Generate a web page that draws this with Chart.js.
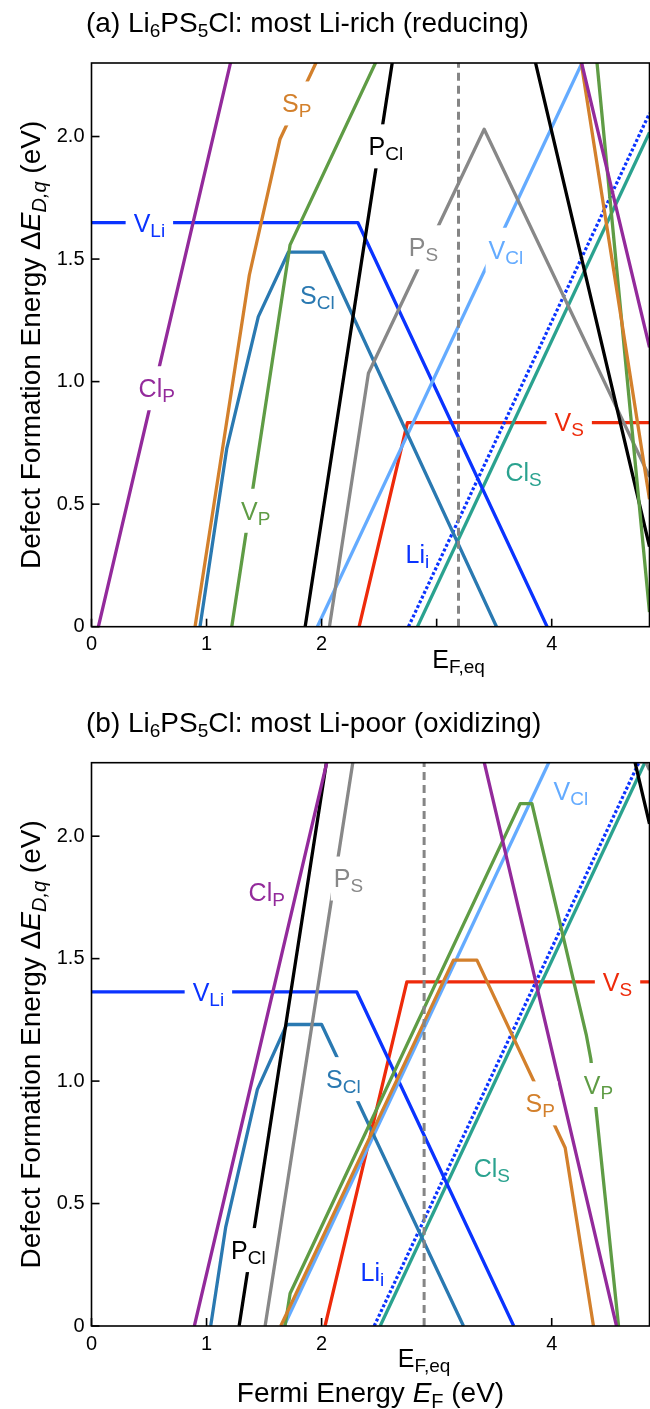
<!DOCTYPE html>
<html><head><meta charset="utf-8">
<script src="https://cdn.jsdelivr.net/npm/chart.js@4.4.1/dist/chart.umd.min.js"></script>
<style>
html,body{margin:0;padding:0;background:#fff;}
#wrap{position:relative;width:650px;height:1409px;overflow:hidden;}
#ca{position:absolute;left:0;top:0;}
#cb{position:absolute;left:0;top:700px;}
</style></head><body>
<div id="wrap"><canvas id="ca" width="650" height="700"></canvas><canvas id="cb" width="650" height="709"></canvas></div>
<script>
// ---------- axes ----------
const xRange = [0, 4.85];
const yRange = [0, 2.3];
const xTicksA = [0, 1, 2, 3, 4];
const xTickLabelsA = ['0', '1', '2', '', '4'];
const xTicksB = [0, 1, 2, 4];
const xTickLabelsB = ['0', '1', '2', '4'];
const yTicks = [0, 0.5, 1, 1.5, 2];
const yTickLabels = ['0', '0.5', '1.0', '1.5', '2.0'];
const efEqA = 3.19;
const efEqB = 2.891;

// ---------- panel (a): most Li-rich ----------
const a_ClP_x = [0.06, 2.72, 4.85];                 const a_ClP_y = [0, 5.33, 1.14];
const a_SP_x  = [0.90, 1.372, 1.639, 3.146, 3.35, 4.117, 4.85]; const a_SP_y = [0, 1.435, 1.99, 3.49, 3.49, 2.72, 0.52];
const a_SCl_x = [0.943, 1.176, 1.45, 1.711, 2.016, 3.52];   const a_SCl_y = [0, 0.728, 1.265, 1.528, 1.528, 0];
const a_VLi_x = [0, 2.315, 3.96];                   const a_VLi_y = [1.649, 1.649, 0];
const a_VP_x  = [1.219, 1.726, 3.726, 3.828, 4.30, 4.394, 4.85]; const a_VP_y = [0, 1.558, 3.558, 3.558, 2.614, 2.30, 0.06];
const a_PCl_x = [1.857, 3.107, 4.85];               const a_PCl_y = [0, 3.80, 0.327];
const a_PS_x  = [2.068, 2.407, 3.413, 4.85];        const a_PS_y  = [0, 1.034, 2.03, 0.612];
const a_VCl_x = [1.963, 4.40];                      const a_VCl_y = [0, 2.437];
const a_VS_x  = [2.326, 2.746, 4.85];               const a_VS_y  = [0, 0.833, 0.833];
const a_Lii_x = [2.755, 4.85];                      const a_Lii_y = [0, 2.095];
const a_ClS_x = [2.833, 4.85];                      const a_ClS_y = [0, 2.017];

// ---------- panel (b): most Li-poor ----------
const b_ClP_x = [0.894, 2.73, 4.563];               const b_ClP_y = [0, 3.67, 0];
const b_SP_x  = [1.645, 3.146, 3.35, 4.117, 4.363]; const b_SP_y  = [0, 1.494, 1.494, 0.728, 0];
const b_SCl_x = [1.036, 1.167, 1.442, 1.697, 2.0, 3.233]; const b_SCl_y = [0, 0.405, 0.966, 1.231, 1.231, 0];
const b_VLi_x = [0, 2.306, 3.67];                   const b_VLi_y = [1.364, 1.364, 0];
const b_VP_x  = [1.682, 1.726, 3.726, 3.828, 4.30, 4.34, 4.581]; const b_VP_y = [0, 0.133, 2.133, 2.133, 1.19, 1.09, 0];
const b_PCl_x = [1.283, 3.107, 4.85];               const b_PCl_y = [0, 5.53, 2.05];
const b_PS_x  = [1.509, 2.407, 3.413, 4.85];        const b_PS_y  = [0, 2.71, 3.70, 2.27];
const b_VCl_x = [1.674, 4.20];                      const b_VCl_y = [0, 2.526];
const b_VS_x  = [2.03, 2.741, 4.85];                const b_VS_y  = [0, 1.405, 1.405];
const b_Lii_x = [2.457, 4.85];                      const b_Lii_y = [0, 2.393];
const b_ClS_x = [2.509, 4.85];                      const b_ClS_y = [0, 2.341];

// ---------- colours ----------
const C = {
  ClP: '#932a9b', SP: '#d3802c', SCl: '#2a79b1', VLi: '#0a33ff', VP: '#5f9c45',
  PCl: '#000000', PS: '#888888', VCl: '#64abff', VS: '#ee2a0a', Lii: '#0a33ff', ClS: '#2aa28f', EF: '#858585'
};

// ---------- in-plot labels (data coordinates) ----------
const labelsA = [
  {main:'V',  sub:'Li', x:0.503, y:1.649, c:C.VLi, gap:[8,22]},
  {main:'S',  sub:'P',  x:1.784, y:2.135, c:C.SP,  gap:[3,22]},
  {main:'P',  sub:'Cl', x:2.558, y:1.96,  c:C.PCl, gap:[3,22]},
  {main:'S',  sub:'Cl', x:1.963, y:1.354, c:C.SCl, gap:null},
  {main:'P',  sub:'S',  x:2.885, y:1.548, c:C.PS,  gap:[3,22]},
  {main:'V',  sub:'Cl', x:3.602, y:1.538, c:C.VCl, gap:[3,22]},
  {main:'Cl', sub:'P',  x:0.567, y:0.973, c:C.ClP, gap:[3,22]},
  {main:'V',  sub:'P',  x:1.428, y:0.473, c:C.VP,  gap:[3,22]},
  {main:'V',  sub:'S',  x:4.152, y:0.833, c:C.VS,  gap:[8,22]},
  {main:'Cl', sub:'S',  x:3.755, y:0.630, c:C.ClS, gap:null},
  {main:'Li', sub:'i',  x:2.833, y:0.297, c:C.Lii, gap:null}
];
const labelsB = [
  {main:'Cl', sub:'P',  x:1.523, y:1.770, c:C.ClP, gap:null},
  {main:'P',  sub:'S',  x:2.233, y:1.827, c:C.PS,  gap:[3,22]},
  {main:'V',  sub:'Li', x:1.016, y:1.364, c:C.VLi, gap:[8,22]},
  {main:'S',  sub:'Cl', x:2.189, y:1.008, c:C.SCl, gap:[3,22]},
  {main:'P',  sub:'Cl', x:1.364, y:0.310, c:C.PCl, gap:[3,22]},
  {main:'Li', sub:'i',  x:2.442, y:0.222, c:C.Lii, gap:null},
  {main:'V',  sub:'S',  x:4.572, y:1.405, c:C.VS,  gap:[8,22]},
  {main:'V',  sub:'Cl', x:4.167, y:2.185, c:C.VCl, gap:null},
  {main:'S',  sub:'P',  x:3.90,  y:0.909, c:C.SP,  gap:[3,22]},
  {main:'V',  sub:'P',  x:4.407, y:0.984, c:C.VP,  gap:[3,22]},
  {main:'Cl', sub:'S',  x:3.480, y:0.644, c:C.ClS, gap:null}
];

// ---------- text helpers ----------
const FAM = '"Liberation Sans", Arial, Helvetica, sans-serif';
const LBL_MAIN = 25, LBL_SUB = 19, TICK = 20, TITLE = 28, AXT = 28, AXSUB = 20;
function fontStr(s){ return (s.i ? 'italic ' : '') + s.s + 'px ' + FAM; }
function richWidth(ctx, segs){ let w = 0; for (const s of segs){ ctx.font = fontStr(s); w += ctx.measureText(s.t).width; } return w; }
function drawRich(ctx, segs, x, y, align){
  const w = richWidth(ctx, segs);
  let cx = align === 'center' ? x - w/2 : (align === 'right' ? x - w : x);
  ctx.textAlign = 'left'; ctx.textBaseline = 'alphabetic';
  for (const s of segs){ ctx.font = fontStr(s); ctx.fillText(s.t, cx, y + (s.dy || 0)); cx += ctx.measureText(s.t).width; }
  return w;
}

function series(xs, ys, color, extra){
  return Object.assign({
    data: xs.map((x, i) => ({x: x, y: ys[i]})),
    showLine: true, borderColor: color, backgroundColor: color, borderWidth: 3.3,
    pointRadius: 0, pointHoverRadius: 0, fill: false, tension: 0, clip: 0,
    borderJoinStyle: 'round', borderCapStyle: 'butt'
  }, extra || {});
}

const decor = {
  id: 'decor',
  afterDatasetsDraw(chart){
    const o = chart.options.plugins.decor;
    const ctx = chart.ctx, xs = chart.scales.x, ys = chart.scales.y, ca = chart.chartArea;
    ctx.save();
    // labels inside the plot
    for (const L of o.labels){
      const px = xs.getPixelForValue(L.x), py = ys.getPixelForValue(L.y);
      const segs = [{t:L.main, s:LBL_MAIN}, {t:L.sub, s:LBL_SUB, dy:5}];
      const w = richWidth(ctx, segs);
      if (L.gap){
        ctx.fillStyle = '#fff';
        ctx.fillRect(px - w/2 - L.gap[0], py - L.gap[1], w + 2*L.gap[0], 2*L.gap[1]);
      }
      ctx.fillStyle = L.c;
      drawRich(ctx, segs, px, py + 0.358*LBL_MAIN, 'center');
    }
    // frame
    ctx.strokeStyle = '#000'; ctx.lineWidth = 1.6;
    ctx.strokeRect(ca.left, ca.top, ca.right - ca.left, ca.bottom - ca.top);
    // ticks (inward) and tick labels
    ctx.lineWidth = 1.6; ctx.fillStyle = '#000';
    o.xTicks.forEach((v, i) => {
      const px = xs.getPixelForValue(v);
      ctx.beginPath(); ctx.moveTo(px, ca.bottom); ctx.lineTo(px, ca.bottom - 8); ctx.stroke();
      ctx.font = TICK + 'px ' + FAM; ctx.textAlign = 'center'; ctx.textBaseline = 'middle';
      if (o.xLabels[i]) ctx.fillText(o.xLabels[i], px, ca.bottom + 18);
    });
    yTicks.forEach((v, i) => {
      const py = ys.getPixelForValue(v);
      ctx.beginPath(); ctx.moveTo(ca.left, py); ctx.lineTo(ca.left + 8, py); ctx.stroke();
      ctx.font = TICK + 'px ' + FAM; ctx.textAlign = 'right'; ctx.textBaseline = 'middle';
      ctx.fillText(yTickLabels[i], ca.left - 7, py);
    });
    // E_F,eq tick label
    const ex = xs.getPixelForValue(o.efEq);
    drawRich(ctx, [{t:'E', s:25}, {t:'F,eq', s:19, dy:5}], ex, ca.bottom + 32 + 0.358*25, 'center');
    // panel title
    drawRich(ctx, [
      {t:o.tag + ' Li', s:TITLE}, {t:'6', s:19, dy:5}, {t:'PS', s:TITLE}, {t:'5', s:19, dy:5},
      {t:'Cl: ' + o.title, s:TITLE}
    ], 86, ca.top - 41 + 0.358*TITLE, 'left');
    // y axis title
    ctx.save();
    ctx.translate(30, (ca.top + ca.bottom)/2);
    ctx.rotate(-Math.PI/2);
    drawRich(ctx, [
      {t:'Defect Formation Energy \u0394', s:AXT}, {t:'E', s:AXT, i:true}, {t:'D,q', s:AXSUB, i:true, dy:6},
      {t:' (eV)', s:AXT}
    ], 0, 0.358*AXT, 'center');
    ctx.restore();
    // x axis title (bottom panel only)
    if (o.xTitle){
      drawRich(ctx, [
        {t:'Fermi Energy ', s:AXT}, {t:'E', s:AXT, i:true}, {t:'F', s:AXSUB, dy:6}, {t:' (eV)', s:AXT}
      ], (ca.left + ca.right)/2, ca.bottom + 66 + 0.358*AXT, 'center');
    }
    ctx.restore();
  }
};

function makeChart(id, datasets, pad, decorOpts){
  return new Chart(document.getElementById(id), {
    type: 'scatter',
    data: { datasets: datasets },
    options: {
      responsive: false, animation: false, devicePixelRatio: 1,
      layout: { padding: pad },
      plugins: { legend: {display:false}, tooltip: {enabled:false}, title: {display:false}, decor: decorOpts },
      scales: {
        x: { type:'linear', min:xRange[0], max:xRange[1], display:false },
        y: { type:'linear', min:yRange[0], max:yRange[1], display:false }
      },
      events: []
    },
    plugins: [decor]
  });
}

function panelSets(p, ef){
  const g = (n) => [window[p + '_' + n + '_x'], window[p + '_' + n + '_y']];
  return [
    series([ef, ef], [yRange[0], yRange[1]], C.EF, {borderWidth: 3, borderDash: [8, 5]}),
    series(...g('ClP'), C.ClP),
    series(...g('SP'),  C.SP),
    series(...g('VP'),  C.VP),
    series(...g('PCl'), C.PCl),
    series(...g('PS'),  C.PS),
    series(...g('SCl'), C.SCl),
    series(...g('VCl'), C.VCl),
    series(...g('VLi'), C.VLi),
    series(...g('ClS'), C.ClS),
    series(...g('Lii'), C.Lii, {borderDash: [3, 2.2], borderWidth: 3.2}),
    series(...g('VS'),  C.VS)
  ];
}
</script>
<script>
Object.assign(window, {
  a_ClP_x, a_ClP_y, a_SP_x, a_SP_y, a_SCl_x, a_SCl_y, a_VLi_x, a_VLi_y, a_VP_x, a_VP_y, a_PCl_x, a_PCl_y,
  a_PS_x, a_PS_y, a_VCl_x, a_VCl_y, a_VS_x, a_VS_y, a_Lii_x, a_Lii_y, a_ClS_x, a_ClS_y,
  b_ClP_x, b_ClP_y, b_SP_x, b_SP_y, b_SCl_x, b_SCl_y, b_VLi_x, b_VLi_y, b_VP_x, b_VP_y, b_PCl_x, b_PCl_y,
  b_PS_x, b_PS_y, b_VCl_x, b_VCl_y, b_VS_x, b_VS_y, b_Lii_x, b_Lii_y, b_ClS_x, b_ClS_y
});
makeChart('ca', panelSets('a', efEqA), {left: 91.5, right: 0.5, top: 63, bottom: 73.3},
  {labels: labelsA, xTicks: xTicksA, xLabels: xTickLabelsA, efEq: efEqA, tag: '(a)', title: 'most Li-rich (reducing)', xTitle: false});
makeChart('cb', panelSets('b', efEqB), {left: 91.5, right: 0.5, top: 62.7, bottom: 83},
  {labels: labelsB, xTicks: xTicksB, xLabels: xTickLabelsB, efEq: efEqB, tag: '(b)', title: 'most Li-poor (oxidizing)', xTitle: true});
</script>
</body></html>
